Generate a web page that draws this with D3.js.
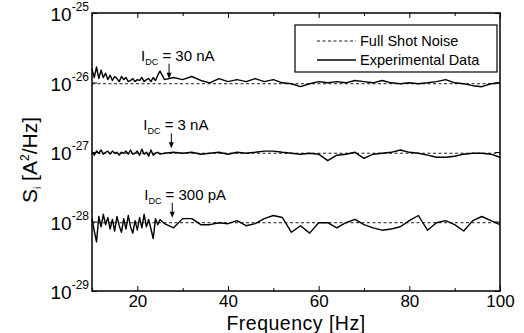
<!DOCTYPE html>
<html>
<head>
<meta charset="utf-8">
<script src="https://cdn.jsdelivr.net/npm/d3@7"></script>
<style>
  body { margin: 0; background: #fff; }
  svg { display: block; font-family: "Liberation Sans", Arial, sans-serif; }
</style>
</head>
<body>
<div id="chart"></div>
<script>
// frequencies [Hz] shared by all three spectra
const freq = [10,10.5,11,11.5,12,12.5,13,13.5,14,14.5,15,15.5,16,16.5,17,17.5,18,18.5,19,19.5,20,20.5,21,21.5,22,22.5,23,23.5,24,24.5,25,
  26,28,30,32,34,36,38,40,42,44,46,48,50,52,54,56,58,60,62,64,66,68,70,72,74,76,78,80,82,84,86,88,90,92,94,96,98,100];

// full shot noise level 2eI [A^2/Hz]
const shotLevels = [9.6e-27, 9.6e-28, 9.6e-29];
const currentLabels = ["30 nA", "3 nA", "300 pA"];
const arrowFreq = [27, 27.5, 27.7];

// experimental S_i, each in units of its decade (1e-26, 1e-27, 1e-28 A^2/Hz)
const units = [1e-26, 1e-27, 1e-28];
const data30nA = [1.56,1.18,1.67,1.14,1.51,1.18,1.36,1.10,1.27,1.07,1.22,1.14,1.03,1.22,1.10,1.18,1.03,1.07,1.14,1.03,1.10,1.07,1.18,1.03,1.10,1.14,1.03,1.18,1.07,1.27,1.46,
  1.10,1.18,1.10,1.22,1.07,0.99,1.14,1.03,1.10,1.03,1.14,1.03,1.10,0.99,0.96,0.87,0.96,1.03,0.99,1.03,
  0.99,1.07,1.03,0.99,1.07,0.99,0.96,0.99,0.96,0.99,1.03,1.10,0.99,0.96,0.90,0.87,0.96,0.99];
const data3nA = [0.99,0.90,1.03,0.96,1.07,0.93,0.99,1.03,0.93,1.03,0.96,0.99,0.90,0.99,0.96,1.03,0.93,1.07,0.93,0.96,1.03,0.90,1.10,0.93,0.99,0.87,1.07,0.90,0.96,0.99,0.93,
  0.96,0.99,0.96,0.99,0.93,0.96,0.99,0.93,0.99,0.96,0.99,1.03,1.03,0.99,0.96,0.93,0.96,0.93,0.75,0.90,
  0.93,0.99,0.81,0.93,0.96,0.99,1.07,0.99,0.96,0.90,0.84,0.84,0.87,0.93,0.96,0.96,0.93,0.84];
const data300pA = [1.10,0.73,0.51,1.18,0.84,1.27,0.90,1.14,0.78,1.07,0.73,1.18,0.87,0.70,1.10,0.78,1.22,0.84,0.68,1.03,0.75,1.14,0.81,1.27,0.84,1.07,0.78,0.57,1.10,0.90,1.07,
  0.93,0.81,1.10,1.10,0.90,0.90,0.96,0.93,1.03,0.87,0.93,1.10,1.22,1.14,0.70,0.87,0.68,0.96,0.96,0.81,
  0.96,1.07,0.90,0.81,0.75,0.78,0.84,1.03,1.22,0.75,0.96,1.03,0.90,0.73,1.03,1.18,1.03,0.90];

const xMajor = [20, 40, 60, 80, 100];
const xMinor = [10, 30, 50, 70, 90];
const yDecades = [-25, -26, -27, -28, -29];

const width = 524, height = 333;
const m = { left: 92, right: 24, top: 13, bottom: 42 };

const svg = d3.select("#chart").append("svg")
    .attr("width", width)
    .attr("height", height);

const x = d3.scaleLinear().domain([10, 100]).range([m.left, width - m.right]);
const y = d3.scaleLog().domain([1e-29, 1e-25]).range([height - m.bottom, m.top]);
const x0 = x.range()[0], x1 = x.range()[1], yb = y.range()[0], yt = y.range()[1];

// axes, ticks inward
svg.append("g")
    .attr("transform", `translate(0,${yb})`)
    .call(d3.axisBottom(x).tickValues(xMajor).tickSizeInner(-5).tickSizeOuter(0).tickPadding(4))
    .call(g => g.select(".domain").remove())
    .call(g => g.selectAll("text").attr("font-size", 17).attr("fill", "#000").attr("font-family", null));
svg.append("g")
    .attr("transform", `translate(0,${yb})`)
    .call(d3.axisBottom(x).tickValues(xMinor).tickSizeInner(-3).tickSizeOuter(0).tickFormat(""))
    .call(g => g.select(".domain").remove());
svg.append("g")
    .attr("transform", `translate(0,${yt})`)
    .call(d3.axisTop(x).tickValues(xMajor).tickSizeInner(-5).tickSizeOuter(0).tickFormat(""))
    .call(g => g.select(".domain").remove());
svg.append("g")
    .attr("transform", `translate(0,${yt})`)
    .call(d3.axisTop(x).tickValues(xMinor).tickSizeInner(-3).tickSizeOuter(0).tickFormat(""))
    .call(g => g.select(".domain").remove());

const yVals = yDecades.map(e => Math.pow(10, e));
svg.append("g")
    .attr("transform", `translate(${x0},0)`)
    .call(d3.axisLeft(y).tickValues(yVals).tickSizeInner(-5).tickSizeOuter(0).tickFormat(""))
    .call(g => g.select(".domain").remove());
svg.append("g")
    .attr("transform", `translate(${x1},0)`)
    .call(d3.axisRight(y).tickValues(yVals).tickSizeInner(-5).tickSizeOuter(0).tickFormat(""))
    .call(g => g.select(".domain").remove());

// y tick labels 10^n
const yl = svg.append("g").selectAll("text").data(yDecades).enter().append("text")
    .attr("x", x0 - 3)
    .attr("y", d => y(Math.pow(10, d)) + 8)
    .attr("text-anchor", "end")
    .attr("font-size", 19);
yl.append("tspan").text("10");
yl.append("tspan").attr("dy", -10).attr("font-size", 12).text(d => d);

// frame
svg.append("rect")
    .attr("x", x0).attr("y", yt)
    .attr("width", x1 - x0).attr("height", yb - yt)
    .attr("fill", "none").attr("stroke", "#000").attr("stroke-width", 1.5);

// shot noise levels
svg.append("g").selectAll("line").data(shotLevels).enter().append("line")
    .attr("x1", x0).attr("x2", x1)
    .attr("y1", d => y(d)).attr("y2", d => y(d))
    .attr("stroke", "#000").attr("stroke-width", 0.9)
    .attr("stroke-dasharray", "3,2.5");

// experimental spectra
const series = [data30nA, data3nA, data300pA];
const line = d3.line().x((d, i) => x(freq[i])).y(d => y(d));
svg.append("g").selectAll("path").data(series).enter().append("path")
    .attr("d", (s, k) => line(s.map(v => v * units[k])))
    .attr("fill", "none").attr("stroke", "#000").attr("stroke-width", 1.4)
    .attr("stroke-linejoin", "round");

// current annotations with arrows
const ann = svg.append("g");
shotLevels.forEach((lev, k) => {
    const ax = x(arrowFreq[k]);
    const ya = y(lev);
    const t = ann.append("text")
        .attr("x", ax - 28)
        .attr("y", ya - 23)
        .attr("font-size", 15);
    t.append("tspan").text("I");
    t.append("tspan").attr("dy", 4).attr("font-size", 9).text("DC");
    t.append("tspan").attr("dy", -4).text(" = " + currentLabels[k]);
    ann.append("line")
        .attr("x1", ax).attr("x2", ax)
        .attr("y1", ya - 20).attr("y2", ya - 8)
        .attr("stroke", "#000").attr("stroke-width", 1);
    ann.append("path")
        .attr("d", `M${ax - 2.5},${ya - 11} L${ax + 2.5},${ya - 11} L${ax},${ya - 5} Z`)
        .attr("fill", "#000");
});

// legend
const lg = svg.append("g");
lg.append("rect")
    .attr("x", 295).attr("y", 25).attr("width", 202).attr("height", 47)
    .attr("fill", "#fff").attr("stroke", "#000").attr("stroke-width", 1.2);
const legendItems = ["Full Shot Noise", "Experimental Data"];
legendItems.forEach((name, i) => {
    const ly = 41 + i * 19;
    lg.append("line")
        .attr("x1", 317).attr("x2", 356).attr("y1", ly).attr("y2", ly)
        .attr("stroke", "#000").attr("stroke-width", i ? 1.3 : 0.9)
        .attr("stroke-dasharray", i ? null : "3,2.5");
    lg.append("text")
        .attr("x", 360).attr("y", ly + 5)
        .attr("font-size", 14.5)
        .text(name);
});

// axis titles
svg.append("text")
    .attr("x", (x0 + x1) / 2).attr("y", 330)
    .attr("text-anchor", "middle")
    .attr("font-size", 19.5)
    .attr("letter-spacing", 0.5)
    .text("Frequency [Hz]");

const yt2 = svg.append("text")
    .attr("transform", `translate(37,${(yt + yb) / 2 + 8}) rotate(-90)`)
    .attr("text-anchor", "middle")
    .attr("font-size", 21);
yt2.append("tspan").text("S");
yt2.append("tspan").attr("dy", 4).attr("font-size", 10).text("i");
yt2.append("tspan").attr("dy", -4).text(" [A");
yt2.append("tspan").attr("dy", -8).attr("font-size", 12).text("2");
yt2.append("tspan").attr("dy", 8).text("/Hz]");
</script>
</body>
</html>
